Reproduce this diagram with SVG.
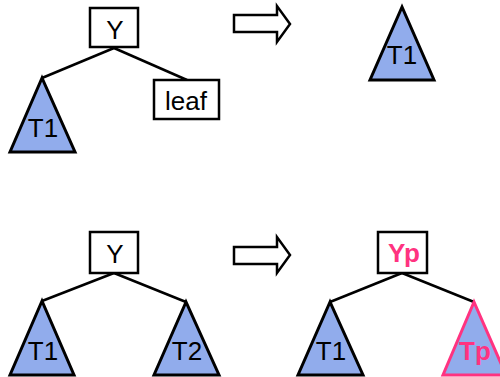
<svg xmlns="http://www.w3.org/2000/svg" width="500" height="377" viewBox="0 0 500 377">
<style>
.box{fill:#fff;stroke:#000;stroke-width:2.5}
.tri{fill:#91acec;stroke:#000;stroke-width:3;stroke-linejoin:miter}
.trip{fill:#91acec;stroke:#ff3380;stroke-width:3}
.edge{stroke:#000;stroke-width:2.5;fill:none}
.arr{fill:#fff;stroke:#000;stroke-width:2.5}
text{font-family:"Liberation Sans",Arial,sans-serif;font-size:26px;text-anchor:middle;fill:#000}
.pink{fill:#ff3380;font-weight:bold;font-size:26px}
</style>
<g id="connectors">
<line class="edge" x1="114" y1="48" x2="42" y2="78"/>
<line class="edge" x1="114" y1="48" x2="187" y2="80"/>
<line class="edge" x1="114" y1="273" x2="42" y2="301"/>
<line class="edge" x1="114" y1="273" x2="186" y2="302"/>
<line class="edge" x1="402" y1="273" x2="330" y2="302"/>
<line class="edge" x1="402" y1="273" x2="474" y2="302"/>
</g>
<g id="Y1"><rect class="box" x="90" y="8" width="48" height="39"/><text x="115" y="39">Y</text></g>
<g id="T1a"><polygon class="tri" points="42,78 10,152 75,152"/><text x="43" y="137">T1</text></g>
<g id="leaf"><rect class="box" x="154" y="80" width="65" height="39"/><text x="186" y="110">leaf</text></g>
<g id="arrow1"><polygon class="arr" points="234,15 277,15 277,6 290,24 277,42 277,32 234,32"/></g>
<g id="T1b"><polygon class="tri" points="402,7 370,80 434,80"/><text x="402" y="64">T1</text></g>
<g id="Y2"><rect class="box" x="90" y="232" width="48" height="41"/><text x="115" y="263">Y</text></g>
<g id="T1c"><polygon class="tri" points="42,301 10,375 74,375"/><text x="43" y="360">T1</text></g>
<g id="T2"><polygon class="tri" points="186,302 154,375 219,375"/><text x="187" y="360">T2</text></g>
<g id="arrow2"><polygon class="arr" points="234,247 277,247 277,237 290,255 277,273 277,264 234,264"/></g>
<g id="Yp"><rect class="box" x="378" y="232" width="49" height="41"/><text class="pink" x="404" y="262">Yp</text></g>
<g id="T1d"><polygon class="tri" points="330,302 298,375 363,375"/><text x="331" y="360">T1</text></g>
<g id="Tp"><polygon class="trip" points="474,302 443,375 506,375"/><text class="pink" x="475" y="360">Tp</text></g>
</svg>
